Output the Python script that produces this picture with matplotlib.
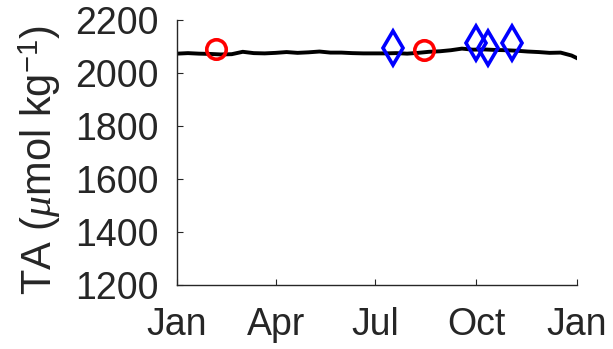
import matplotlib
matplotlib.use("Agg")
import matplotlib.pyplot as plt

plt.rcParams['font.family'] = ['Liberation Sans', 'DejaVu Sans']
plt.rcParams['mathtext.fontset'] = 'custom'
plt.rcParams['mathtext.rm'] = 'Liberation Sans'
plt.rcParams['mathtext.it'] = 'Liberation Serif:italic'

# day of year and TA from the sensor record (black line)
line_days = [0, 10, 20, 30, 40, 50, 60, 70, 80, 90, 100, 110, 120, 130, 140,
             150, 160, 170, 180, 190, 200, 210, 220, 230, 240, 250, 260, 270,
             280, 290, 300, 310, 320, 330, 340, 350, 360, 365]
line_ta = [2073, 2075, 2073, 2072, 2070, 2071, 2080, 2075, 2074, 2076, 2079,
           2076, 2078, 2081, 2077, 2077, 2075, 2074, 2074, 2074, 2075, 2073,
           2076, 2080, 2082, 2086, 2092, 2088, 2089, 2087, 2086, 2084, 2081,
           2079, 2076, 2077, 2066, 2056]

# discrete samples
circle_days = [36, 225]
circle_ta = [2089, 2087]
diamond_days = [197, 273, 284, 306]
diamond_ta = [2095, 2112, 2095, 2114]

tick_days = [0, 90, 181, 273, 365]
tick_labels = ['Jan', 'Apr', 'Jul', 'Oct', 'Jan']

fig = plt.figure(figsize=(6.13, 3.49), dpi=100)
ax = fig.add_axes([0.2887, 0.1834, 0.6526, 0.7593])

ax.plot(line_days, line_ta, color='black', lw=2.8, zorder=2)
ax.plot(circle_days, circle_ta, 'o', mfc='none', mec='#ff0000', mew=2.6,
        ms=14, zorder=3)
ax.plot(diamond_days, diamond_ta, 'd', mfc='none', mec='#0000ff', mew=2.6,
        ms=17, zorder=3)

ax.set_xlim(0, 365)
ax.set_ylim(1200, 2200)
ax.set_xticks(tick_days)
ax.set_xticklabels(tick_labels)
ax.set_yticks(range(1200, 2201, 200))
ax.set_ylabel(r'TA ($\mu$mol kg$^{-1}$)', fontsize=30, color='#262626')
ax.yaxis.set_label_coords(-0.285, 0.47)

ax.spines['top'].set_visible(False)
ax.spines['right'].set_visible(False)
for s in ['left', 'bottom']:
    ax.spines[s].set_color('#262626')
    ax.spines[s].set_linewidth(1.0)
ax.tick_params(direction='in', length=4, labelsize=27, colors='#262626')
ax.tick_params(axis='y', pad=13)
ax.tick_params(axis='x', pad=16)

fig.savefig('out.png', dpi=100)
